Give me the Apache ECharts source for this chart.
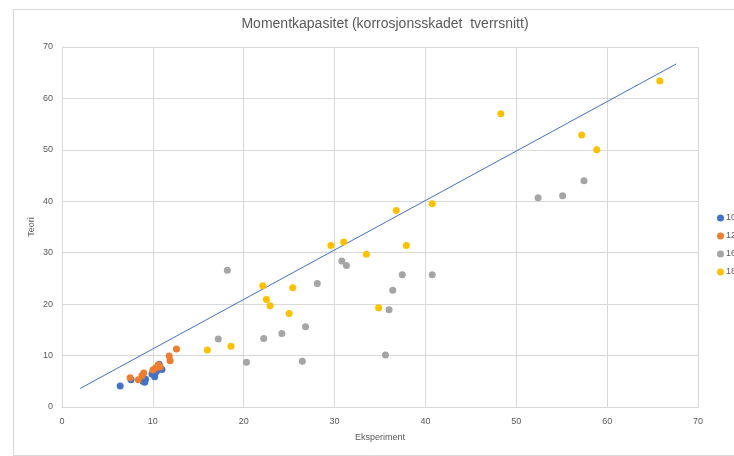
<!DOCTYPE html>
<html>
<head>
<meta charset="utf-8">
<script src="https://cdn.jsdelivr.net/npm/echarts@6/dist/echarts.min.js"></script>
<style>
  html, body { margin: 0; padding: 0; background: #fff; }
  #chart { width: 734px; height: 456px; }
</style>
</head>
<body>
<div id="chart"></div>
<script>
// Measured moment capacity: [experiment, theory] pairs per group
const seriesNames = ['10', '12', '16', '18'];
const colors = ['#4472C4', '#ED7D31', '#A5A5A5', '#FFC000'];

const pts10 = [
  [6.4, 4.1], [7.6, 5.3], [8.9, 5.0], [9.1, 4.8], [9.2, 5.4],
  [9.9, 6.4], [10.2, 5.9], [10.4, 6.9], [10.7, 8.3], [11.0, 7.3]
];
const pts12 = [
  [7.5, 5.7], [8.4, 5.3], [8.8, 6.1], [9.0, 6.6], [10.0, 7.2],
  [10.3, 7.6], [10.8, 7.8], [10.6, 8.2], [11.9, 9.0], [11.8, 9.9], [12.6, 11.3]
];
const pts16 = [
  [18.2, 26.6], [17.2, 13.2], [20.3, 8.7], [22.2, 13.3], [24.2, 14.3],
  [26.8, 15.6], [26.45, 8.9], [28.1, 24.0], [30.8, 28.4], [31.3, 27.5],
  [35.6, 10.1], [36.0, 18.9], [36.4, 22.7], [37.45, 25.7], [40.75, 25.7],
  [52.4, 40.7], [55.1, 41.1], [57.45, 44.0]
];
const pts18 = [
  [16.0, 11.1], [18.6, 11.8], [22.1, 23.6], [22.5, 20.9], [22.9, 19.7],
  [25.0, 18.2], [25.4, 23.2], [29.6, 31.4], [31.0, 32.1], [33.5, 29.7],
  [34.85, 19.3], [37.9, 31.4], [36.8, 38.2], [40.75, 39.5], [48.3, 57.0],
  [57.2, 52.9], [58.85, 50.0], [65.8, 63.4]
];
// Reference line (theory vs. experiment)
const refLine = [[2.0, 3.6], [67.6, 66.7]];

const axisTicks = { min: 0, max: 70, interval: 10 };

const chart = echarts.init(document.getElementById('chart'), null, { renderer: 'canvas' });
const groups = [pts10, pts12, pts16, pts18];
const txt = '#595959';
const grid = '#D9D9D9';
const font = 'Liberation Sans';

chart.setOption({
  animation: false,
  backgroundColor: '#fff',
  title: {
    text: 'Momentkapasitet (korrosjonsskadet  tverrsnitt)',
    left: 380, top: 12, textAlign: 'center',
    textStyle: { color: txt, fontSize: 14, fontWeight: 'normal', fontFamily: font }
  },
  graphic: [{
    type: 'rect', silent: true, z: -1,
    shape: { x: 13.5, y: 9.5, width: 740, height: 446 },
    style: { fill: 'none', stroke: grid, lineWidth: 1 }
  }],
  legend: {
    orient: 'vertical', left: 717, top: 213, itemGap: 8, padding: 0,
    itemWidth: 7, itemHeight: 7, icon: 'circle',
    textStyle: { color: txt, fontSize: 9, lineHeight: 10, fontFamily: font, padding: [0, 0, 0, -3] },
    data: seriesNames
  },
  grid: { left: 62, right: 36, top: 47, bottom: 49 },
  xAxis: {
    type: 'value', min: axisTicks.min, max: axisTicks.max, interval: axisTicks.interval,
    name: 'Eksperiment', nameLocation: 'middle', nameGap: 26, nameMoveOverlap: false,
    nameTextStyle: { color: txt, fontSize: 9, fontFamily: font },
    axisLine: { lineStyle: { color: grid } },
    axisTick: { show: false },
    axisLabel: { color: txt, fontSize: 9, fontFamily: font, margin: 10 },
    splitLine: { lineStyle: { color: grid, width: 1 } }
  },
  yAxis: {
    type: 'value', min: axisTicks.min, max: axisTicks.max, interval: axisTicks.interval,
    name: 'Teori', nameLocation: 'middle', nameGap: 26, nameMoveOverlap: false,
    nameTextStyle: { color: txt, fontSize: 9, fontFamily: font },
    axisLine: { show: true, lineStyle: { color: grid } },
    axisTick: { show: false },
    axisLabel: { color: txt, fontSize: 9, fontFamily: font, margin: 9 },
    splitLine: { lineStyle: { color: grid, width: 1 } }
  },
  series: groups.map((g, i) => ({
    name: seriesNames[i], type: 'scatter', data: g,
    symbolSize: 7, itemStyle: { color: colors[i], opacity: 1 }
  })).concat([{
    name: 'linje', type: 'line', data: refLine, symbol: 'none',
    lineStyle: { color: '#4472C4', width: 1 }, z: 1
  }])
});
</script>
</body>
</html>
